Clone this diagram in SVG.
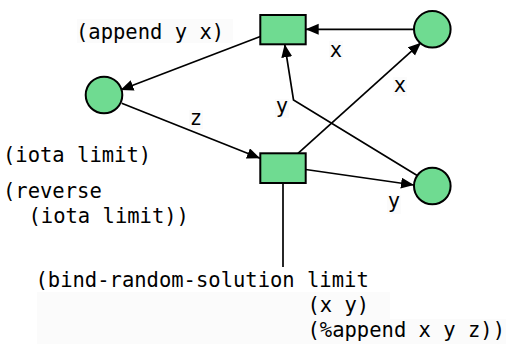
<svg xmlns="http://www.w3.org/2000/svg" width="506" height="344" viewBox="0 0 506 344">
<style>
.node{fill:#6fdb91;stroke:#000;stroke-width:2}
.edge{fill:none;stroke:#000;stroke-width:1.7}
.t{font-family:"DejaVu Sans Mono","Liberation Mono",monospace;font-size:20.5px;fill:#000}
.el{text-anchor:middle}
.bg{fill:#fbfbfb}
</style>
<defs>
<marker id="arr" markerUnits="userSpaceOnUse" markerWidth="14" markerHeight="12" refX="13" refY="5.5" orient="auto">
<path d="M0,0 L13,5.5 L0,11 Z" fill="#000"/>
</marker>
</defs>
<rect width="506" height="344" fill="#fff"/>
<g id="connectors">
<path class="edge" d="M414,29.3 L305.7,29.3" marker-end="url(#arr)"/>
<path class="edge" d="M260.3,36.5 L120.5,90" marker-end="url(#arr)"/>
<path class="edge" d="M121.7,103.3 L260,158.3" marker-end="url(#arr)"/>
<path class="edge" d="M298,153.3 L421,42.7" marker-end="url(#arr)"/>
<path class="edge" d="M418,176 L293.5,100 L284.7,44.3" marker-end="url(#arr)"/>
<path class="edge" d="M305.7,169.5 L414,185" marker-end="url(#arr)"/>
<path class="edge" d="M283,183 L283,267"/>
</g>
<g id="edge-labels">
<rect class="bg" x="329" y="41" width="14" height="19"/>
<text class="t el" x="336" y="57">x</text>
<rect class="bg" x="393" y="77" width="14" height="19"/>
<text class="t el" x="400" y="92">x</text>
<rect class="bg" x="275" y="99" width="14" height="19"/>
<text class="t el" x="282" y="112.5">y</text>
<rect class="bg" x="387" y="195" width="14" height="19"/>
<text class="t el" x="394" y="208">y</text>
<rect class="bg" x="189" y="110" width="14" height="19"/>
<text class="t el" x="196" y="125">z</text>
</g>
<g id="n-append-rect"><rect class="node" x="260.3" y="15" width="45.4" height="29.3"/></g>
<g id="n-append-circle"><circle class="node" cx="104" cy="95" r="18.3"/></g>
<g id="n-x-circle"><circle class="node" cx="432.3" cy="29.3" r="18.3"/></g>
<g id="n-bind-rect"><rect class="node" x="260.3" y="153.3" width="45.4" height="29.7"/></g>
<g id="n-y-circle"><circle class="node" cx="432.3" cy="186" r="18.3"/></g>
<g id="labels">
<rect class="bg" x="77" y="19" width="156" height="24"/>
<text class="t" x="76" y="39">(append y x)</text>
<text class="t" x="3" y="161.5">(iota limit)</text>
<text class="t" x="3" y="198">(reverse</text>
<text class="t" x="28.5" y="223">(iota limit))</text>
<rect class="bg" x="37" y="292" width="353" height="27"/>
<rect class="bg" x="37" y="319" width="469" height="25"/>
<text class="t" x="35.5" y="287">(bind-random-solution limit</text>
<text class="t" x="307.5" y="312">(x y)</text>
<text class="t" x="307.5" y="337">(%append x y z))</text>
</g>
</svg>
